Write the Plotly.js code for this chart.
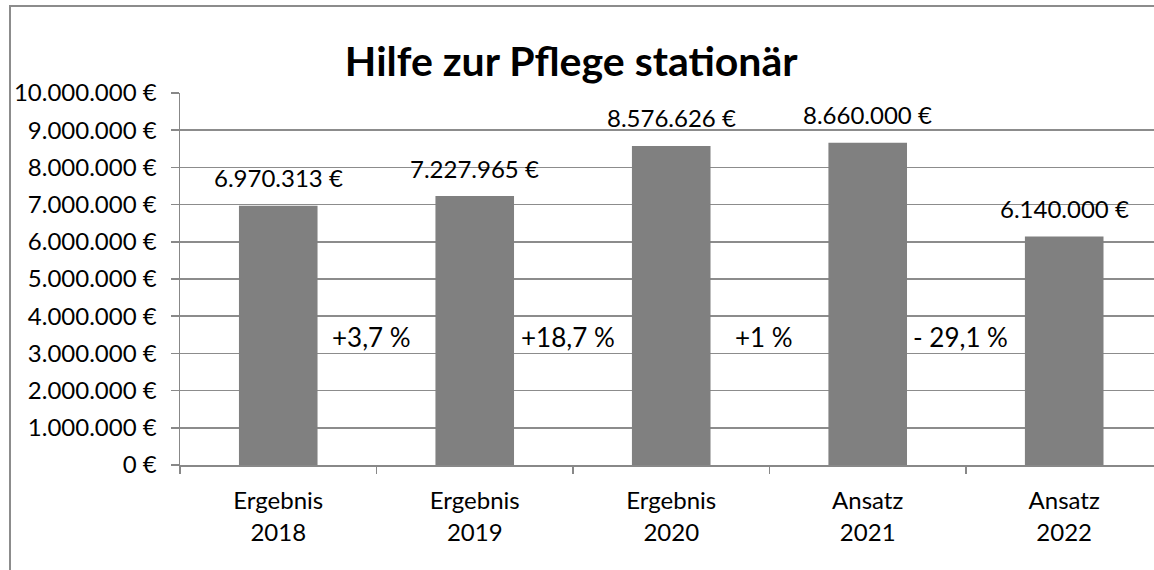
<!DOCTYPE html>
<html>
<head>
<meta charset="utf-8">
<script src="https://cdn.plot.ly/plotly-3.0.1.min.js"></script>
<style>
  body { margin: 0; background: #fff; }
  #frame {
    position: absolute; left: 9px; top: 5px; width: 1200px; height: 600px;
    border-left: 2px solid #8c8c8c; border-top: 2px solid #8c8c8c;
  }
  #chart { position: absolute; left: 0; top: 0; width: 1154px; height: 570px; }
</style>
</head>
<body>
<div id="frame"></div>
<div id="chart"></div>
<script>
// Jahreswerte (Ergebnis / Ansatz)
const categories = ['Ergebnis 2018', 'Ergebnis 2019', 'Ergebnis 2020', 'Ansatz 2021', 'Ansatz 2022'];
const tickLabels = ['Ergebnis<br>2018', 'Ergebnis<br>2019', 'Ergebnis<br>2020', 'Ansatz<br>2021', 'Ansatz<br>2022'];
const values = [6970313, 7227965, 8576626, 8660000, 6140000];
const valueLabels = ['6.970.313 €', '7.227.965 €', '8.576.626 €', '8.660.000 €', '6.140.000 €'];
const changeLabels = ['+3,7 %', '+18,7 %', '+1 %', '- 29,1 %'];

const yTicks = [0, 1e6, 2e6, 3e6, 4e6, 5e6, 6e6, 7e6, 8e6, 9e6, 1e7];
const yTickText = ['0 €', '1.000.000 €', '2.000.000 €', '3.000.000 €', '4.000.000 €',
  '5.000.000 €', '6.000.000 €', '7.000.000 €', '8.000.000 €', '9.000.000 €', '10.000.000 €'];

const FONT = 'Lato, "Open Sans", sans-serif';

const trace = {
  type: 'bar',
  x: categories,
  y: values,
  width: 0.4,
  marker: { color: '#808080' },
  hoverinfo: 'skip'
};

// Wertbeschriftungen über den Balken
const annotations = categories.map((c, i) => ({
  x: c,
  y: values[i],
  text: valueLabels[i],
  showarrow: false,
  yanchor: 'middle',
  yshift: 28,
  font: { family: FONT, size: 24, color: '#000' }
}));

// Veränderung zum Vorjahr zwischen den Balken
changeLabels.forEach((t, i) => {
  annotations.push({
    x: i + 0.5,
    xref: 'x',
    y: 3450000,
    text: t,
    showarrow: false,
    xshift: -5,
    yanchor: 'middle',
    font: { family: FONT, size: 26, color: '#000' }
  });
});

const layout = {
  width: 1154,
  height: 570,
  margin: { l: 180, r: 0, t: 93, b: 105 },
  paper_bgcolor: 'rgba(0,0,0,0)',
  plot_bgcolor: '#fff',
  showlegend: false,
  title: {
    text: '<b>Hilfe zur Pflege stationär</b>',
    font: { family: FONT, size: 41, color: '#000' },
    x: 0.495,
    xanchor: 'center',
    y: 0.892,
    yanchor: 'middle'
  },
  xaxis: {
    type: 'category',
    range: [-0.5, 4.457],
    tickvals: categories,
    ticktext: tickLabels,
    tickson: 'boundaries',
    ticks: 'outside',
    ticklen: 7,
    tickcolor: '#888',
    tickwidth: 1.5,
    showline: true,
    linecolor: '#888',
    linewidth: 1.5,
    showgrid: false,
    ticklabelstandoff: 14,
    tickfont: { family: FONT, size: 24, color: '#000' }
  },
  yaxis: {
    range: [0, 1e7],
    tickvals: yTicks,
    ticktext: yTickText,
    ticks: 'outside',
    ticklen: 8,
    tickcolor: '#888',
    tickwidth: 1.5,
    showline: true,
    linecolor: '#888',
    linewidth: 1.5,
    showgrid: true,
    gridcolor: '#8c8c8c',
    gridwidth: 1.5,
    zeroline: false,
    ticklabelstandoff: 9,
    tickfont: { family: FONT, size: 24, color: '#000' }
  },
  annotations: annotations
};

Plotly.newPlot('chart', [trace], layout, { displayModeBar: false, staticPlot: true });
</script>
</body>
</html>
